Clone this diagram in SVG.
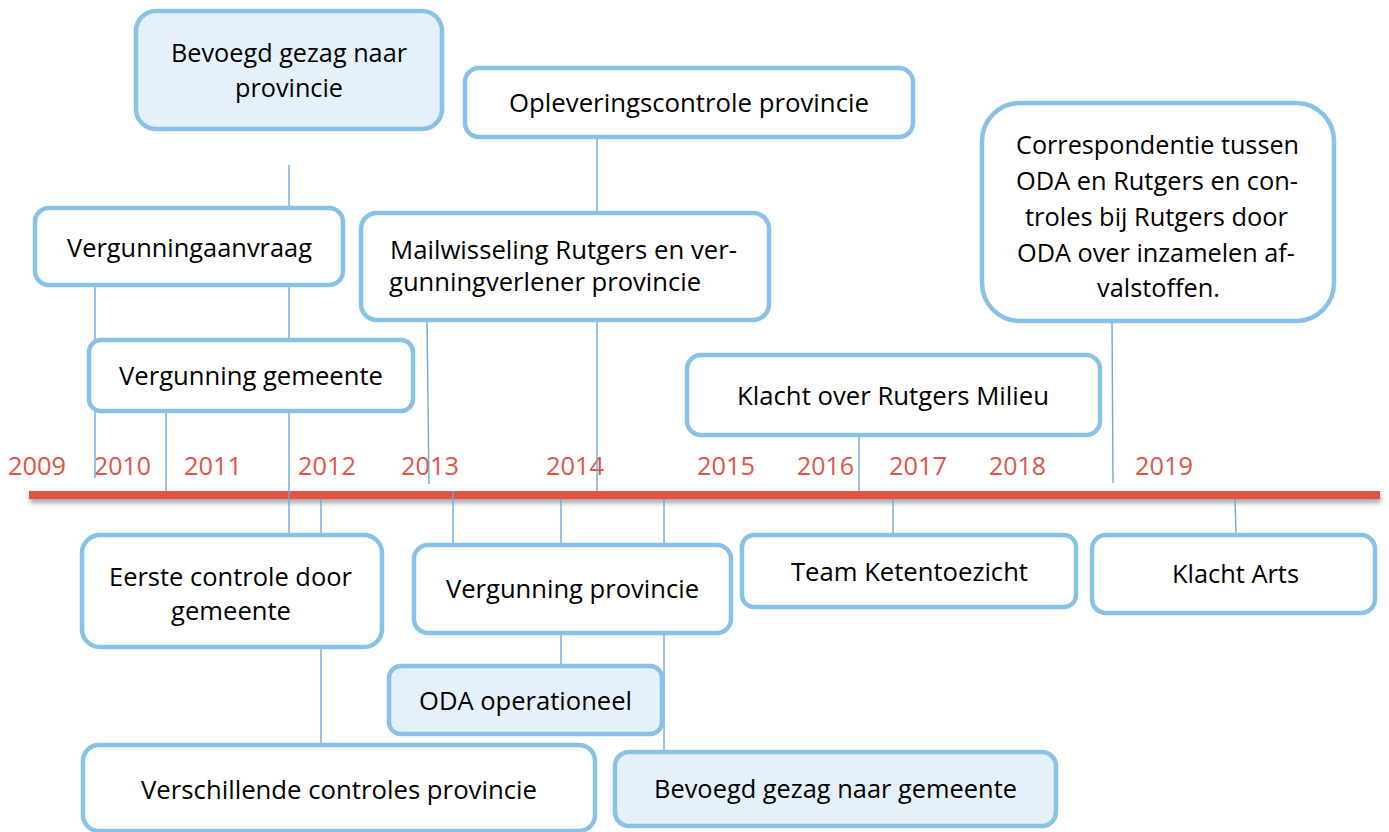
<svg xmlns="http://www.w3.org/2000/svg" width="1389" height="832" viewBox="0 0 1389 832">
<style>
.box{fill:#ffffff;stroke:#88c2e6;stroke-width:4.5}
.lt{fill:#e5f1fa}
.t{font-family:"Open Sans","Liberation Sans",sans-serif;font-size:25px;fill:#000000}
.yr{font-family:"Open Sans","Liberation Sans",sans-serif;font-size:26px;fill:#e05347}
.c{stroke:#6aaadd;stroke-width:1.4;fill:none}
</style>
<defs>
<filter id="sh" x="-5%" y="-200%" width="110%" height="500%">
<feDropShadow dx="1" dy="4" stdDeviation="2.5" flood-color="#000" flood-opacity="0.35"/>
</filter>
</defs>
<rect width="1389" height="832" fill="#ffffff"/>
<g id="years">
<text class="yr" x="8" y="475" textLength="58" lengthAdjust="spacingAndGlyphs">2009</text>
<text class="yr" x="94" y="475" textLength="57" lengthAdjust="spacingAndGlyphs">2010</text>
<text class="yr" x="184" y="475" textLength="58" lengthAdjust="spacingAndGlyphs">2011</text>
<text class="yr" x="298" y="475" textLength="58" lengthAdjust="spacingAndGlyphs">2012</text>
<text class="yr" x="401" y="475" textLength="58" lengthAdjust="spacingAndGlyphs">2013</text>
<text class="yr" x="546" y="475" textLength="58" lengthAdjust="spacingAndGlyphs">2014</text>
<text class="yr" x="697" y="475" textLength="58" lengthAdjust="spacingAndGlyphs">2015</text>
<text class="yr" x="797" y="475" textLength="57" lengthAdjust="spacingAndGlyphs">2016</text>
<text class="yr" x="889" y="475" textLength="58" lengthAdjust="spacingAndGlyphs">2017</text>
<text class="yr" x="989" y="475" textLength="57" lengthAdjust="spacingAndGlyphs">2018</text>
<text class="yr" x="1135" y="475" textLength="58" lengthAdjust="spacingAndGlyphs">2019</text>
</g>
<g id="timeline">
<rect x="29" y="491" width="1351" height="8" fill="#e05244" filter="url(#sh)"/>
</g>
<g id="connectors">
<line class="c" x1="95" y1="285" x2="95" y2="478"/>
<line class="c" x1="166" y1="411" x2="166" y2="491"/>
<line class="c" x1="289" y1="165" x2="289" y2="535"/>
<line class="c" x1="321" y1="499" x2="321" y2="745"/>
<line class="c" x1="427" y1="320" x2="429" y2="484"/>
<line class="c" x1="453" y1="491" x2="453" y2="545"/>
<line class="c" x1="561" y1="499" x2="561" y2="666"/>
<line class="c" x1="597" y1="137" x2="597" y2="491"/>
<line class="c" x1="664" y1="499" x2="664" y2="752"/>
<line class="c" x1="859" y1="435" x2="859" y2="491"/>
<line class="c" x1="893" y1="499" x2="893" y2="535"/>
<line class="c" x1="1112" y1="321" x2="1113" y2="483"/>
<line class="c" x1="1235" y1="499" x2="1236" y2="535"/>
</g>
<g id="n-bevoegd-provincie">
<rect class="box lt" x="136" y="11" width="306" height="118" rx="20"/>
<text class="t" x="171" y="62" textLength="236" lengthAdjust="spacingAndGlyphs">Bevoegd gezag naar</text>
<text class="t" x="235" y="97" textLength="108" lengthAdjust="spacingAndGlyphs">provincie</text>
</g>
<g id="n-opleveringscontrole">
<rect class="box" x="465" y="68" width="448" height="69" rx="14"/>
<text class="t" x="509" y="112" textLength="360" lengthAdjust="spacingAndGlyphs">Opleveringscontrole provincie</text>
</g>
<g id="n-vergunningaanvraag">
<rect class="box" x="35" y="208" width="308" height="77" rx="14"/>
<text class="t" x="67" y="257" textLength="245" lengthAdjust="spacingAndGlyphs">Vergunningaanvraag</text>
</g>
<g id="n-mailwisseling">
<rect class="box" x="361" y="213" width="408" height="107" rx="16"/>
<text class="t" x="390" y="259" textLength="347" lengthAdjust="spacingAndGlyphs">Mailwisseling Rutgers en ver-</text>
<text class="t" x="389" y="291" textLength="312" lengthAdjust="spacingAndGlyphs">gunningverlener provincie</text>
</g>
<g id="n-correspondentie">
<rect class="box" x="982" y="103" width="352" height="218" rx="38"/>
<text class="t" x="1016" y="154" textLength="283" lengthAdjust="spacingAndGlyphs">Correspondentie tussen</text>
<text class="t" x="1016" y="190" textLength="282" lengthAdjust="spacingAndGlyphs">ODA en Rutgers en con-</text>
<text class="t" x="1025" y="226" textLength="263" lengthAdjust="spacingAndGlyphs">troles bij Rutgers door</text>
<text class="t" x="1017" y="262" textLength="278" lengthAdjust="spacingAndGlyphs">ODA over inzamelen af-</text>
<text class="t" x="1097" y="297" textLength="123" lengthAdjust="spacingAndGlyphs">valstoffen.</text>
</g>
<g id="n-vergunning-gemeente">
<rect class="box" x="89" y="340" width="324" height="71" rx="12"/>
<text class="t" x="119" y="385" textLength="264" lengthAdjust="spacingAndGlyphs">Vergunning gemeente</text>
</g>
<g id="n-klacht-milieu">
<rect class="box" x="687" y="355" width="413" height="80" rx="14"/>
<text class="t" x="737" y="405" textLength="312" lengthAdjust="spacingAndGlyphs">Klacht over Rutgers Milieu</text>
</g>
<g id="n-eerste-controle">
<rect class="box" x="82" y="535" width="300" height="112" rx="18"/>
<text class="t" x="109" y="586" textLength="243" lengthAdjust="spacingAndGlyphs">Eerste controle door</text>
<text class="t" x="171" y="620" textLength="120" lengthAdjust="spacingAndGlyphs">gemeente</text>
</g>
<g id="n-vergunning-provincie">
<rect class="box" x="414" y="545" width="317" height="88" rx="14"/>
<text class="t" x="446" y="598" textLength="253" lengthAdjust="spacingAndGlyphs">Vergunning provincie</text>
</g>
<g id="n-team-ketentoezicht">
<rect class="box" x="742" y="535" width="334" height="72" rx="12"/>
<text class="t" x="791" y="581" textLength="237" lengthAdjust="spacingAndGlyphs">Team Ketentoezicht</text>
</g>
<g id="n-klacht-arts">
<rect class="box" x="1092" y="535" width="283" height="78" rx="14"/>
<text class="t" x="1172" y="583" textLength="127" lengthAdjust="spacingAndGlyphs">Klacht Arts</text>
</g>
<g id="n-oda-operationeel">
<rect class="box lt" x="389" y="666" width="273" height="68" rx="12"/>
<text class="t" x="419" y="710" textLength="213" lengthAdjust="spacingAndGlyphs">ODA operationeel</text>
</g>
<g id="n-verschillende-controles">
<rect class="box" x="83" y="745" width="512" height="86" rx="16"/>
<text class="t" x="141" y="799" textLength="396" lengthAdjust="spacingAndGlyphs">Verschillende controles provincie</text>
</g>
<g id="n-bevoegd-gemeente">
<rect class="box lt" x="615" y="752" width="441" height="74" rx="14"/>
<text class="t" x="654" y="798" textLength="363" lengthAdjust="spacingAndGlyphs">Bevoegd gezag naar gemeente</text>
</g>
</svg>
